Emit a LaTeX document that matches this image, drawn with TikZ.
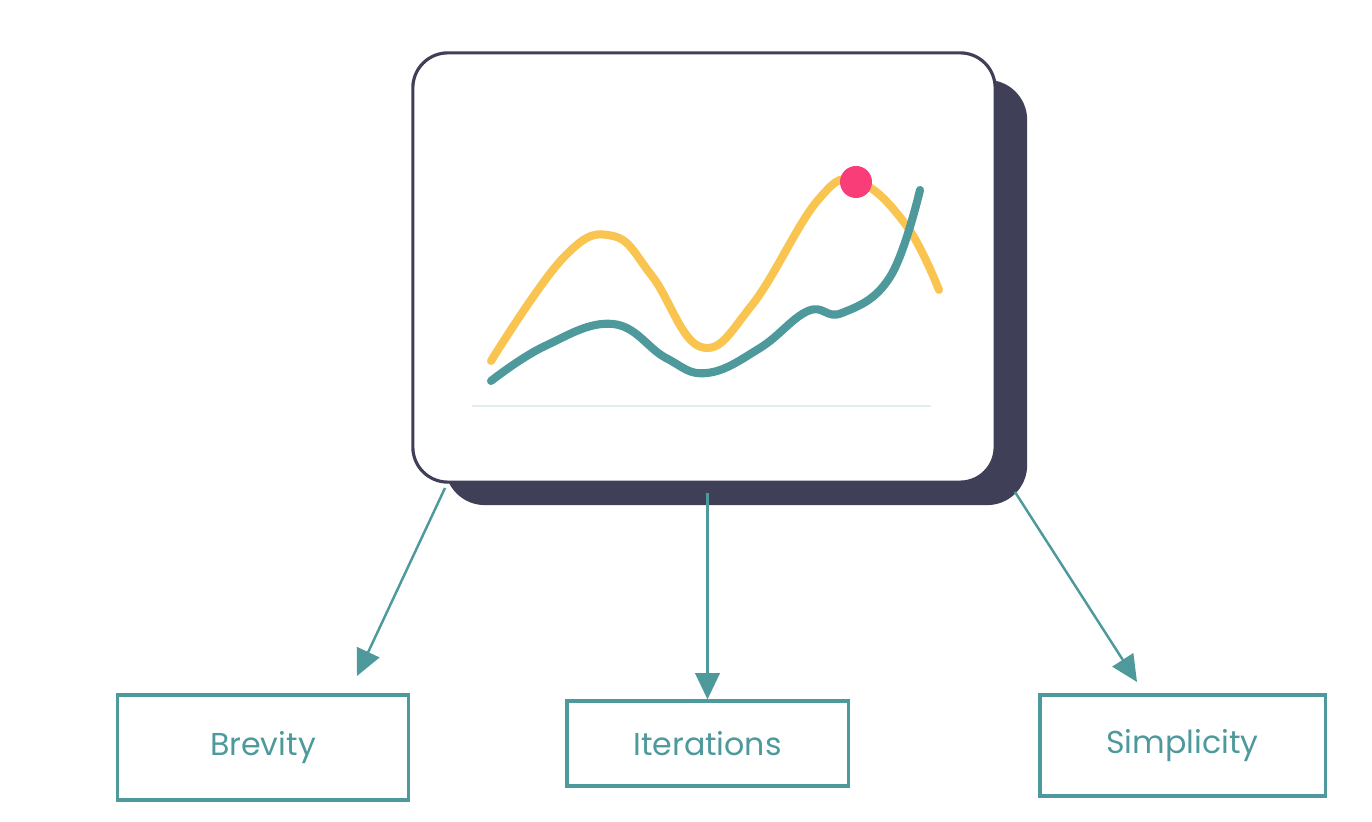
\documentclass[tikz,border=0pt]{standalone}
\usepackage{fontspec}
\setmainfont{Poppins}
\usetikzlibrary{arrows.meta}
\definecolor{navy}{HTML}{3F4058}
\definecolor{tealline}{HTML}{4E999C}
\definecolor{sun}{HTML}{F9C550}
\definecolor{rosedot}{HTML}{F93D78}
\definecolor{faint}{HTML}{E2EFEE}

\begin{document}
\begin{tikzpicture}[
  x=0.01cm, y=-0.01cm,
  shade/.style={fill=navy,inner sep=0pt,rounded corners=0.4cm,minimum width=5.82cm,minimum height=4.25cm},
  card/.style={draw=navy,fill=white,line width=0.9pt,inner sep=0pt,rounded corners=0.35cm,minimum width=5.82cm,minimum height=4.29cm},
  tag/.style={draw=tealline,line width=0.9pt,text=tealline,font=\fontsize{9}{11}\selectfont,inner sep=0pt},
  arr/.style={-{Triangle[length=7.5pt,width=7pt]},tealline,line width=0.7pt},
  curve/.style={line width=2.3pt,line cap=round}
]
\useasboundingbox (0,0) rectangle (1372,822);

\node[shade] (shadow) at (736,292.5) {};
\node[card] (chart) at (704,267.5) {};

\draw[faint,line width=0.6pt] (472,406) -- (931,406);
\draw[curve,sun] plot[smooth,tension=0.7] coordinates {(491,361) (564,257) (613,236) (652,276) (701,347) (752,305) (818,200) (858,182) (906,225) (939,290)};
\draw[curve,tealline] plot[smooth,tension=0.7] coordinates {(491,381) (545,346) (613,324) (666,358) (707,373) (760,348) (808,311) (842,313) (890,277) (920,190)};
\node[circle,fill=rosedot,inner sep=0pt,minimum size=0.32cm] (peak) at (856,182) {};

\node[tag,minimum width=2.9cm,minimum height=1.05cm] (brevity) at (263,747.5) {Brevity};
\node[tag,minimum width=2.81cm,minimum height=0.85cm] (iterations) at (707.5,743.5) {Iterations};
\node[tag,minimum width=2.85cm,minimum height=1.01cm] (simplicity) at (1182.5,745.5) {Simplicity};

\coordinate (s1) at (445,488);
\coordinate (s2) at (707.5,493);
\coordinate (s3) at (1015,492);
\coordinate (e1) at (357,676);
\coordinate (e3) at (1137,682);

\draw[arr] (s1) -- (e1);
\draw[arr] (s2) -- (iterations);
\draw[arr] (s3) -- (e3);
\end{tikzpicture}
\end{document}
